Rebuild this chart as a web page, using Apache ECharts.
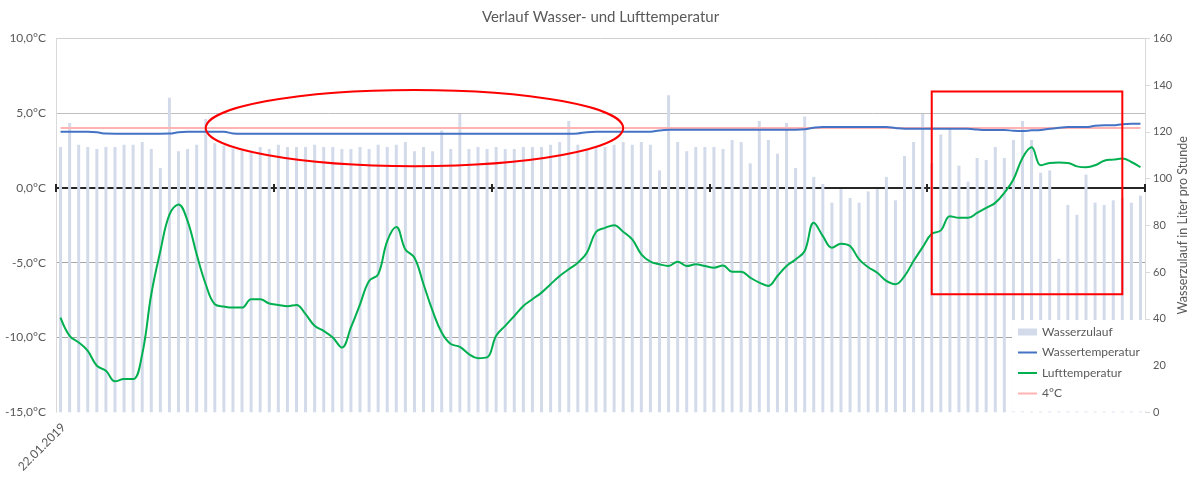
<!DOCTYPE html>
<html>
<head>
<meta charset="utf-8">
<script src="https://cdn.jsdelivr.net/npm/echarts@6/dist/echarts.min.js"></script>
<style>
html,body{margin:0;padding:0;background:#fff;}
#chart{width:1201px;height:477px;}
</style>
</head>
<body>
<div id="chart"></div>
<script>
// ---- data ----
const dayLabels = ['22.01.2019', '23.01.2019', '24.01.2019', '25.01.2019', '26.01.2019'];
const hourLabels = ['00:00','01:00','02:00','03:00','04:00','05:00','06:00','07:00','08:00','09:00','10:00','11:00',
                    '12:00','13:00','14:00','15:00','16:00','17:00','18:00','19:00','20:00','21:00','22:00','23:00'];
const categories = [];
dayLabels.forEach(d => hourLabels.forEach(h => categories.push(d + ' ' + h)));

// Wasserzulauf (Liter pro Stunde), right axis
const wasserzulauf = [
  113.5,123.8,114.5,113.5,112.6,113.5,113.5,114.5,114.5,115.6,112.6,104.5,134.6,111.7,112.6,114.5,125.5,115.1,114.1,113.0,
  112.0,112.0,113.5,112.6,114.5,113.5,113.5,113.5,114.5,113.5,113.5,112.6,112.6,113.5,112.6,114.5,113.5,114.5,115.6,111.7,
  113.5,111.7,120.6,112.6,127.6,112.6,113.5,112.6,113.5,112.6,112.6,113.5,113.5,113.5,114.5,115.6,124.6,114.5,112.6,113.5,
  113.5,114.5,115.6,114.5,115.6,114.5,103.5,135.6,115.6,111.7,113.5,113.5,113.5,112.6,116.5,115.6,106.5,124.6,116.5,110.6,
  123.8,104.5,126.5,100.7,97.7,89.7,95.5,91.7,89.7,94.5,95.5,100.7,90.7,109.6,115.6,127.6,106.5,118.8,121.6,105.5,
  98.7,108.8,107.9,113.5,108.8,116.5,124.6,116.5,102.5,103.5,65.7,88.7,84.5,101.7,89.7,88.7,90.7,91.7,89.7,92.7
];

// Wassertemperatur (°C)
const wassertemperatur = [
  3.75,3.75,3.75,3.75,3.72,3.63,3.62,3.62,3.62,3.62,3.62,3.62,3.63,3.72,3.75,3.75,3.75,3.75,3.75,3.64,
  3.62,3.62,3.62,3.62,3.62,3.62,3.62,3.62,3.62,3.62,3.62,3.62,3.62,3.62,3.62,3.62,3.62,3.62,3.62,3.62,
  3.62,3.62,3.62,3.62,3.62,3.62,3.62,3.62,3.62,3.62,3.62,3.62,3.62,3.62,3.62,3.62,3.62,3.64,3.72,3.75,
  3.75,3.75,3.75,3.75,3.75,3.76,3.84,3.89,3.89,3.89,3.89,3.89,3.89,3.89,3.89,3.89,3.89,3.89,3.89,3.89,
  3.89,3.89,3.92,4.02,4.07,4.07,4.07,4.07,4.07,4.07,4.07,4.07,4.0,3.95,3.95,3.95,3.95,3.95,3.95,3.95,
  3.95,3.9,3.87,3.87,3.87,3.82,3.8,3.85,3.87,3.95,4.02,4.07,4.07,4.07,4.15,4.18,4.18,4.26,4.28,4.28
];

// Lufttemperatur (°C)
const lufttemperatur = [
  -8.67,-9.89,-10.33,-10.89,-11.89,-12.22,-12.93,-12.78,-12.78,-11.11,-7.11,-4.22,-1.78,-1.11,-2.22,-4.44,-6.44,-7.78,-7.93,-8.0,
  -8.0,-7.44,-7.44,-7.73,-7.82,-7.91,-7.82,-8.44,-9.22,-9.56,-10.0,-10.67,-9.33,-7.78,-6.22,-5.78,-3.56,-2.62,-4.11,-4.67,
  -6.44,-8.22,-9.67,-10.44,-10.62,-11.11,-11.38,-11.33,-9.89,-9.22,-8.56,-7.89,-7.44,-7.0,-6.44,-5.89,-5.44,-5.0,-4.33,-2.95,
  -2.67,-2.49,-2.93,-3.44,-4.44,-4.93,-5.11,-5.22,-4.93,-5.22,-5.11,-5.22,-5.33,-5.18,-5.6,-5.6,-6.0,-6.33,-6.55,-5.89,
  -5.22,-4.78,-4.22,-2.33,-3.22,-4.0,-3.73,-3.89,-4.78,-5.3,-5.67,-6.22,-6.44,-5.89,-4.89,-3.96,-3.07,-2.84,-1.89,-2.0,
  -2.0,-1.67,-1.33,-1.0,-0.33,0.56,2.0,2.71,1.51,1.67,1.69,1.67,1.44,1.38,1.51,1.82,1.89,1.96,1.73,1.38
];

// 4 °C reference level
const referenzTemperatur = 4;
const referenzLinie = categories.map(() => referenzTemperatur);

// Tick labels
const tempTicks = { min: -15, max: 10, interval: 5 };
const flowTicks = { min: 0, max: 160, interval: 20 };

// Annotations (in data units: category index, °C)
const ellipseAnno = { cx: 38.86, cy: 4.0, rx: 23.08, ry: 2.55 };
const rectAnno = { x0: 96.34, x1: 116.85, y0: 6.45, y1: -7.11 };

const txt = '#595959';
const font = 'Lato, "Open Sans", sans-serif';

const chart = echarts.init(document.getElementById('chart'), null, { renderer: 'canvas' });

const option = {
  animation: false,
  backgroundColor: '#ffffff',
  textStyle: { fontFamily: font },
  title: {
    text: 'Verlauf Wasser- und Lufttemperatur',
    left: 'center',
    top: 5,
    textStyle: { fontSize: 15, fontWeight: 'normal', color: txt, fontFamily: font }
  },
  legend: {
    orient: 'vertical',
    left: 1012,
    top: 320,
    backgroundColor: '#ffffff',
    padding: [5, 10, 11, 5],
    itemGap: 6.5,
    itemWidth: 19,
    itemHeight: 7,
    textStyle: { fontSize: 12, color: txt, fontFamily: font, lineHeight: 14 },
    data: [
      { name: 'Wasserzulauf', icon: 'rect' },
      { name: 'Wassertemperatur', itemStyle: { opacity: 0 } },
      { name: 'Lufttemperatur', itemStyle: { opacity: 0 } },
      { name: '4°C', itemStyle: { opacity: 0 } }
    ]
  },
  grid: { left: 56, right: 56, top: 38.3, bottom: 64.7, containLabel: false, outerBoundsMode: 'none' },
  xAxis: [
    {
      type: 'category',
      data: categories,
      position: 'bottom',
      boundaryGap: true,
      axisLine: { show: true, onZero: true, onZeroAxisIndex: 0, lineStyle: { color: '#262626', width: 2 } },
      axisTick: { show: true, interval: 23, length: 4, lineStyle: { color: '#262626', width: 2 } },
      axisLabel: { show: false },
      splitLine: { show: false }
    },
    {
      type: 'category',
      data: categories,
      position: 'top',
      boundaryGap: true,
      axisLine: { show: true, onZero: true, onZeroAxisIndex: 0, lineStyle: { color: '#262626', width: 2 } },
      axisTick: { show: true, interval: 23, length: 4, lineStyle: { color: '#262626', width: 2 } },
      axisLabel: { show: false },
      splitLine: { show: false }
    }
  ],
  yAxis: [
    {
      type: 'value',
      position: 'left',
      min: tempTicks.min,
      max: tempTicks.max,
      interval: tempTicks.interval,
      axisLine: { show: true, lineStyle: { color: '#d9d9d9', width: 1 } },
      axisTick: { show: false },
      axisLabel: {
        color: txt, fontSize: 12, margin: 10, fontFamily: font,
        formatter: function (v) { return v.toFixed(1).replace('.', ',') + '°C'; }
      },
      splitLine: {
        show: true,
        lineStyle: { color: ['rgba(0,0,0,0)', '#a6a6a6', '#a6a6a6', 'rgba(0,0,0,0)', '#bfbfbf', '#d0d0d0'], width: 1 }
      }
    },
    {
      type: 'value',
      position: 'right',
      min: flowTicks.min,
      max: flowTicks.max,
      interval: flowTicks.interval,
      name: 'Wasserzulauf in Liter pro Stunde',
      nameLocation: 'middle',
      nameRotate: 90,
      nameGap: 31,
      nameMoveOverlap: false,
      nameTextStyle: { fontSize: 12.5, color: txt, fontFamily: font },
      axisLine: { show: true, lineStyle: { color: '#d9d9d9', width: 1 } },
      axisTick: { show: true, length: 5, lineStyle: { color: '#d9d9d9' } },
      axisLabel: { color: txt, fontSize: 11, margin: 8, fontFamily: font },
      splitLine: { show: false }
    }
  ],
  series: [
    {
      name: 'Wasserzulauf',
      type: 'bar',
      xAxisIndex: 0,
      yAxisIndex: 1,
      data: wasserzulauf,
      barWidth: 3,
      itemStyle: { color: '#d3dbea' },
      z: 1
    },
    {
      name: '4°C',
      type: 'line',
      xAxisIndex: 0,
      yAxisIndex: 0,
      data: referenzLinie,
      symbol: 'none',
      lineStyle: { color: '#ffb3b3', width: 2 },
      itemStyle: { color: '#ffb3b3' },
      z: 3
    },
    {
      name: 'Wassertemperatur',
      type: 'line',
      xAxisIndex: 0,
      yAxisIndex: 0,
      data: wassertemperatur,
      smooth: 0.4,
      symbol: 'none',
      lineStyle: { color: '#4472c4', width: 2 },
      itemStyle: { color: '#4472c4' },
      z: 4
    },
    {
      name: 'Lufttemperatur',
      type: 'line',
      xAxisIndex: 0,
      yAxisIndex: 0,
      data: lufttemperatur,
      smooth: 0.4,
      symbol: 'none',
      lineStyle: { color: '#00b050', width: 2 },
      itemStyle: { color: '#00b050' },
      z: 5
    }
  ]
};

chart.setOption(option);

// annotations and the date label placed through the chart's own scales
const c = chart.convertToPixel({ xAxisIndex: 0, yAxisIndex: 0 }, [ellipseAnno.cx, ellipseAnno.cy]);
const ex = chart.convertToPixel({ xAxisIndex: 0, yAxisIndex: 0 }, [ellipseAnno.cx + ellipseAnno.rx, ellipseAnno.cy + ellipseAnno.ry]);
const r0 = chart.convertToPixel({ xAxisIndex: 0, yAxisIndex: 0 }, [rectAnno.x0, rectAnno.y0]);
const r1 = chart.convertToPixel({ xAxisIndex: 0, yAxisIndex: 0 }, [rectAnno.x1, rectAnno.y1]);
const lbl = chart.convertToPixel({ xAxisIndex: 0, yAxisIndex: 0 }, [0, tempTicks.min]);

chart.setOption({
  graphic: [
    {
      type: 'ellipse',
      z: 100,
      shape: { cx: c[0], cy: c[1], rx: Math.abs(ex[0] - c[0]), ry: Math.abs(c[1] - ex[1]) },
      style: { fill: 'none', stroke: '#ff0000', lineWidth: 2 }
    },
    {
      type: 'rect',
      z: 100,
      shape: { x: r0[0], y: r0[1], width: r1[0] - r0[0], height: r1[1] - r0[1] },
      style: { fill: 'none', stroke: '#ff0000', lineWidth: 2 }
    },
    {
      type: 'text',
      z: 100,
      x: lbl[0] + 3,
      y: lbl[1] + 13,
      rotation: Math.PI / 4,
      style: {
        text: categories[0].split(' ')[0],
        fill: txt,
        font: '12px Lato, "Open Sans", sans-serif',
        align: 'right',
        verticalAlign: 'middle'
      }
    }
  ]
});
</script>
</body>
</html>
